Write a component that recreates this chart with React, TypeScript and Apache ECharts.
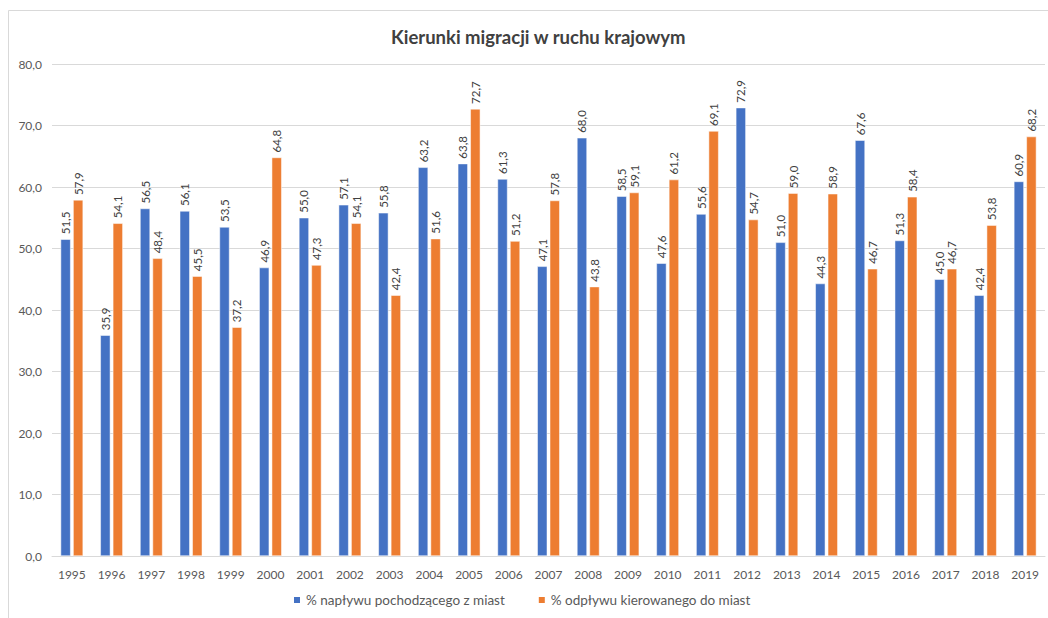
import React, { useEffect, useRef } from "react";
import * as echarts from "echarts";

const years = ["1995","1996","1997","1998","1999","2000","2001","2002","2003","2004","2005","2006","2007","2008","2009","2010","2011","2012","2013","2014","2015","2016","2017","2018","2019"];
const inflowFromCities = [51.5, 35.9, 56.5, 56.1, 53.5, 46.9, 55.0, 57.1, 55.8, 63.2, 63.8, 61.3, 47.1, 68.0, 58.5, 47.6, 55.6, 72.9, 51.0, 44.3, 67.6, 51.3, 45.0, 42.4, 60.9];
const outflowToCities = [57.9, 54.1, 48.4, 45.5, 37.2, 64.8, 47.3, 54.1, 42.4, 51.6, 72.7, 51.2, 57.8, 43.8, 59.1, 61.2, 69.1, 54.7, 59.0, 58.9, 46.7, 58.4, 46.7, 53.8, 68.2];
const seriesNames = ["% napływu pochodzącego z miast", "% odpływu kierowanego do miast"];
const title = "Kierunki migracji w ruchu krajowym";

const FONT = "Lato, 'Open Sans', sans-serif";
const fmt = (v: number) => v.toFixed(1).replace(".", ",");

export default function App() {
  const ref = useRef<HTMLDivElement>(null);
  useEffect(() => {
    if (!ref.current) return;
    const chart = echarts.init(ref.current, null, { renderer: "svg" });
    const label = {
      show: true,
      position: "top" as const,
      rotate: 90,
      align: "left" as const,
      verticalAlign: "middle" as const,
      distance: 5,
      color: "#404040",
      fontSize: 11.5,
      fontFamily: FONT,
      formatter: (p: any) => fmt(p.value),
    };
    chart.setOption({
      animation: false,
      backgroundColor: "#ffffff",
      title: {
        text: title,
        left: 386,
        top: 22,
        textStyle: { fontFamily: FONT, fontSize: 18.5, fontWeight: "bold", color: "#404040" },
      },
      graphic: [
        {
          type: "rect",
          shape: { x: 8.5, y: 10.5, width: 1100, height: 700 },
          style: { fill: "none", stroke: "#d9d9d9", lineWidth: 1 },
          silent: true,
        },
      ],
      legend: {
        bottom: 6,
        left: 287,
        itemWidth: 8,
        itemHeight: 8,
        itemGap: 32,
        icon: "rect",
        textStyle: { fontFamily: FONT, fontSize: 13.5, color: "#595959" },
        data: seriesNames,
      },
      grid: { left: 52, right: 3, top: 64, bottom: 62, containLabel: false },
      xAxis: {
        type: "category",
        data: years,
        axisTick: { show: false },
        axisLine: { lineStyle: { color: "#d9d9d9" } },
        axisLabel: { color: "#595959", fontFamily: FONT, fontSize: 12, margin: 12 },
      },
      yAxis: {
        type: "value",
        min: 0,
        max: 80,
        interval: 10,
        axisLine: { show: false },
        axisTick: { show: false },
        splitLine: { lineStyle: { color: "#d9d9d9" } },
        axisLabel: {
          color: "#595959",
          fontFamily: FONT,
          fontSize: 12,
          margin: 10,
          formatter: (v: number) => fmt(v),
        },
      },
      series: [
        {
          name: seriesNames[0],
          type: "bar",
          data: inflowFromCities,
          barWidth: 10,
          barGap: "25%",
          itemStyle: { color: "#4472C4", borderColor: "#ffffff", borderWidth: 0.5 },
          label,
        },
        {
          name: seriesNames[1],
          type: "bar",
          data: outflowToCities,
          barWidth: 10,
          itemStyle: { color: "#ED7D31", borderColor: "#ffffff", borderWidth: 0.5 },
          label,
        },
      ],
    });
    return () => chart.dispose();
  }, []);
  return (
    <div
      ref={ref}
      style={{ position: "fixed", left: 0, top: 0, width: 1048, height: 618 }}
    />
  );
}
